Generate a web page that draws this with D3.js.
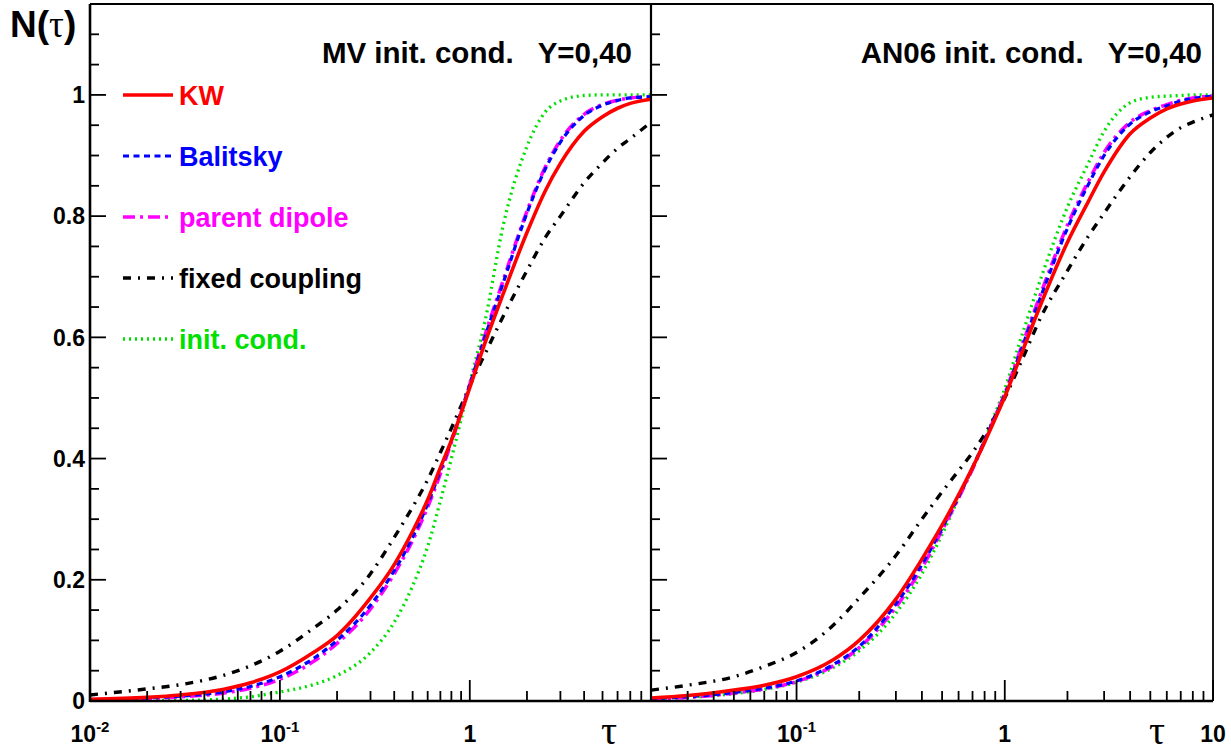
<!DOCTYPE html>
<html>
<head>
<meta charset="utf-8">
<script src="https://cdn.jsdelivr.net/npm/d3@7"></script>
<style>
  html, body { margin:0; padding:0; background:#fff; }
  svg { display:block; }
  text { font-family: "Liberation Sans", Arial, Helvetica, sans-serif; }
</style>
</head>
<body>
<svg id="chart" width="1231" height="753"></svg>
<script>
// ----------------------
// DATA
// ----------------------
const seriesNames = ["KW", "Balitsky", "parent dipole", "fixed coupling", "init. cond."];

// left panel: MV init. cond.
const tauMV  = [0.01,0.02,0.03,0.05,0.07,0.1,0.15,0.2,0.3,0.4,0.5,0.6,0.7,0.8,0.9,1,1.2,1.5,2,2.5,3,4,5,6,7,9];
const kwMV   = [0.003,0.006,0.01,0.019,0.03,0.048,0.08,0.108,0.17,0.225,0.28,0.332,0.385,0.43,0.475,0.517,0.59,0.672,0.773,0.842,0.887,0.94,0.964,0.978,0.986,0.993];
const balMV  = [0.002,0.005,0.008,0.015,0.024,0.04,0.07,0.1,0.158,0.215,0.27,0.325,0.38,0.43,0.478,0.522,0.6,0.69,0.805,0.878,0.922,0.966,0.983,0.991,0.995,0.997];
const parMV  = [0.002,0.004,0.007,0.013,0.021,0.036,0.065,0.095,0.152,0.21,0.265,0.32,0.375,0.427,0.476,0.522,0.603,0.694,0.808,0.881,0.925,0.968,0.984,0.991,0.995,0.997];
const fixMV  = [0.01,0.02,0.027,0.042,0.058,0.082,0.12,0.15,0.21,0.27,0.32,0.365,0.41,0.45,0.487,0.52,0.572,0.635,0.71,0.765,0.8,0.855,0.888,0.912,0.928,0.955];
const initMV = [0,0.0005,0.001,0.003,0.007,0.015,0.027,0.042,0.08,0.13,0.19,0.255,0.33,0.4,0.465,0.525,0.625,0.785,0.915,0.972,0.99,0.999,1,1,1,1];

// right panel: AN06 init. cond.
const tauAN  = [0.02,0.03,0.05,0.07,0.1,0.15,0.2,0.3,0.4,0.5,0.6,0.7,0.8,0.9,1,1.2,1.5,2,2.5,3,4,5,6,7,8,10];
const kwAN   = [0.005,0.009,0.018,0.026,0.04,0.068,0.1,0.168,0.234,0.29,0.34,0.385,0.427,0.466,0.502,0.572,0.657,0.757,0.822,0.873,0.936,0.962,0.977,0.985,0.99,0.995];
const balAN  = [0.004,0.007,0.014,0.021,0.033,0.06,0.09,0.16,0.225,0.285,0.337,0.385,0.43,0.47,0.505,0.58,0.67,0.78,0.85,0.9,0.952,0.972,0.982,0.99,0.994,0.998];
const parAN  = [0.003,0.006,0.013,0.02,0.032,0.058,0.088,0.155,0.22,0.282,0.335,0.383,0.428,0.47,0.507,0.583,0.675,0.785,0.855,0.905,0.955,0.974,0.984,0.991,0.995,0.998];
const fixAN  = [0.018,0.026,0.04,0.057,0.08,0.125,0.17,0.24,0.3,0.345,0.38,0.41,0.44,0.47,0.5,0.56,0.635,0.71,0.765,0.805,0.865,0.905,0.93,0.946,0.955,0.967];
const initAN = [0.003,0.006,0.012,0.019,0.031,0.055,0.083,0.145,0.21,0.275,0.335,0.385,0.43,0.475,0.515,0.6,0.7,0.815,0.885,0.94,0.987,0.996,0.998,0.999,1,1];

const yTicks = [0, 0.2, 0.4, 0.6, 0.8, 1];
const yTickLabels = ["0", "0.2", "0.4", "0.6", "0.8", "1"];
const panelTitles = ["MV init. cond.   Y=0,40", "AN06 init. cond.   Y=0,40"];

// ----------------------
// STYLES
// ----------------------
const styles = [
  { color:"#ff0000", width:3.6, dash:null },
  { color:"#0000ff", width:3.2, dash:"6,4.5" },
  { color:"#ff00ff", width:3.6, dash:"12,5,3,5" },
  { color:"#000000", width:3.4, dash:"8,7,2,7" },
  { color:"#00e000", width:3.3, dash:"2,4" }
];

const svg = d3.select("#chart");
const yTop = 4, yBot = 701;
const y = d3.scaleLinear().domain([0, 1.15]).range([yBot, yTop]);

const panels = [
  { x0:90,  x1:651,  dom:[0.01, 9],  tau:tauMV, ser:[kwMV,balMV,parMV,fixMV,initMV],
    labels:[0.01,0.1,1], tauX:609, title:panelTitles[0], titleX:632, yLabels:true },
  { x0:651, x1:1213, dom:[0.02, 10], tau:tauAN, ser:[kwAN,balAN,parAN,fixAN,initAN],
    labels:[0.1,1,10], tauX:1157, title:panelTitles[1], titleX:1202, yLabels:false }
];

panels.forEach((p,pi)=>{
  const x = d3.scaleLog().domain(p.dom).range([p.x0, p.x1]);
  const g = svg.append("g");

  // clip
  const cid = "clip"+pi;
  svg.append("clipPath").attr("id",cid).append("rect")
    .attr("x",p.x0).attr("y",yTop).attr("width",p.x1-p.x0).attr("height",yBot-yTop);

  // curves (drawn in reverse so KW sits on top)
  const line = d3.line().x(d=>x(d[0])).y(d=>y(d[1])).curve(d3.curveMonotoneX);
  const cg = g.append("g").attr("clip-path",`url(#${cid})`);
  [4,3,2,1,0].forEach(si=>{
    const pts = p.tau.map((t,i)=>[t, p.ser[si][i]]);
    const st = styles[si];
    cg.append("path").datum(pts).attr("d",line)
      .attr("fill","none").attr("stroke",st.color).attr("stroke-width",st.width)
      .attr("stroke-dasharray",st.dash).attr("stroke-linejoin","round");
  });

  // x ticks
  const ticks = x.ticks().filter(t=>t>=p.dom[0]*0.999 && t<=p.dom[1]*1.001);
  ticks.forEach(t=>{
    const major = Math.abs(Math.log10(t) - Math.round(Math.log10(t))) < 1e-6;
    g.append("line").attr("x1",x(t)).attr("x2",x(t))
      .attr("y1",yBot).attr("y2",yBot-(major?21:10))
      .attr("stroke","#000").attr("stroke-width",1.8);
  });

  // y ticks (every 0.05)
  d3.range(0, 1.151, 0.05).forEach(v=>{
    const major = Math.abs(v/0.2 - Math.round(v/0.2)) < 1e-6;
    g.append("line").attr("x1",p.x0).attr("x2",p.x0+(major?16:9))
      .attr("y1",y(v)).attr("y2",y(v))
      .attr("stroke","#000").attr("stroke-width",1.8);
  });

  // x labels
  p.labels.forEach(t=>{
    const e = Math.round(Math.log10(t));
    const txt = g.append("text").attr("x",x(t)).attr("y",742)
      .attr("text-anchor","middle").attr("font-size",23).attr("font-weight","bold");
    if(e===0) txt.text("1");
    else if(e===1) txt.text("10");
    else {
      txt.append("tspan").text("10");
      txt.append("tspan").attr("dy",-10).attr("font-size",15).text(e);
    }
  });

  // y labels
  if(p.yLabels){
    yTicks.forEach((v,i)=>{
      g.append("text").attr("x",85).attr("y",y(v)).attr("dy","0.36em")
        .attr("text-anchor","end").attr("font-size",23).attr("font-weight","bold")
        .text(yTickLabels[i]);
    });
  }

  // axis title tau
  g.append("text").attr("x",p.tauX).attr("y",744).attr("text-anchor","middle")
    .style("font-family","'Liberation Serif','Times New Roman',serif")
    .attr("font-size",40).text("τ");

  // panel title
  g.append("text").attr("x",p.titleX).attr("y",63).attr("text-anchor","end")
    .attr("font-size",29.5).attr("font-weight","bold").style("white-space","pre")
    .text(p.title);

  // axis lines
  g.append("line").attr("x1",p.x0).attr("x2",p.x0).attr("y1",yTop).attr("y2",yBot+1)
    .attr("stroke","#000").attr("stroke-width",pi===0?2.6:2.2);
  g.append("line").attr("x1",p.x0).attr("x2",p.x1).attr("y1",yBot).attr("y2",yBot)
    .attr("stroke","#000").attr("stroke-width",2.3);
});

// frame top / right
svg.append("line").attr("x1",90).attr("x2",1213).attr("y1",yTop).attr("y2",yTop)
  .attr("stroke","#000").attr("stroke-width",2);
svg.append("line").attr("x1",1213).attr("x2",1213).attr("y1",yTop).attr("y2",yBot)
  .attr("stroke","#000").attr("stroke-width",1.8);

// N(tau) label
const nl = svg.append("text").attr("x",10).attr("y",37).attr("font-size",37).attr("font-weight","bold");
nl.append("tspan").text("N(");
nl.append("tspan").style("font-family","'Liberation Serif','Times New Roman',serif").attr("font-weight","normal").text("τ");
nl.append("tspan").text(")");

// ----------------------
// LEGEND
// ----------------------
const legend = svg.append("g");
seriesNames.forEach((name,i)=>{
  const ly = 95 + i*61;
  const st = styles[i];
  legend.append("line").attr("x1",123).attr("x2",173).attr("y1",ly).attr("y2",ly)
    .attr("stroke",st.color).attr("stroke-width",st.width).attr("stroke-dasharray",st.dash);
  legend.append("text").attr("x",179).attr("y",ly+10).attr("font-size",27)
    .attr("font-weight","bold").attr("fill",st.color).text(name);
});
</script>
</body>
</html>
